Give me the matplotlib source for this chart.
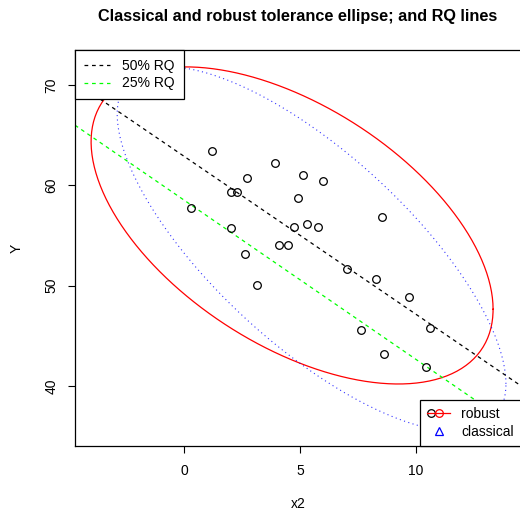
import numpy as np
import matplotlib
matplotlib.use("Agg")
import matplotlib.pyplot as plt
from matplotlib.lines import Line2D
from matplotlib.legend_handler import HandlerTuple, HandlerLine2D

plt.rcParams['font.family'] = ['Liberation Sans', 'DejaVu Sans']

# observed points (x2, Y)
x2 = [1.21, 3.92, 2.72, 5.13, 5.99, 2.03, 2.28, 4.91, 0.30, 8.53,
      2.03, 4.74, 5.30, 5.78, 4.09, 4.48, 2.63, 7.03, 3.15, 8.28,
      9.70, 7.63, 10.60, 8.62, 10.43]
Y = [63.4, 62.2, 60.7, 61.0, 60.4, 59.3, 59.3, 58.7, 57.7, 56.8,
     55.7, 55.8, 56.1, 55.8, 54.0, 54.0, 53.2, 51.7, 50.1, 50.7,
     48.9, 45.6, 45.8, 43.2, 41.9]

# robust location / scatter
rob_center = [4.66, 56.0]
rob_cov = [[10.18, -9.82], [-9.82, 33.9]]

# classical location / scatter
cla_center = [5.5, 53.65]
cla_cov = [[9.52, -15.28], [-15.28, 44.8]]

# quantile regression lines: (intercept, slope)
rq50 = (62.9, -1.576)
rq25 = (58.53, -1.589)

level = 0.975
chi2_q = -2 * np.log(1 - level)  # chi-square quantile with 2 df


def ellipse_xy(center, cov, c, n=300):
    t = np.linspace(0, 2 * np.pi, n)
    L = np.linalg.cholesky(np.asarray(cov))
    pts = np.sqrt(c) * L @ np.vstack([np.cos(t), np.sin(t)])
    return pts[0] + center[0], pts[1] + center[1]


# legend marker drawn a bit left of the handle centre (like R's overplotted pch)
class ShiftedMarker(HandlerLine2D):
    def get_xdata(self, *args):
        xd, xm = super().get_xdata(*args)
        return np.asarray(xd) - 5.5, np.asarray(xm) - 5.5


fs = 10

fig = plt.figure(figsize=(5.20, 5.14), dpi=100)
ax = fig.add_axes([75 / 520, 68 / 514, 446 / 520, 396 / 514])
xlim = (-4.70, 14.53)
ylim = (34.0, 73.5)
ax.set_xlim(*xlim)
ax.set_ylim(*ylim)

ax.plot(x2, Y, 'o', mfc='none', mec='black', ms=5.5, mew=0.9, zorder=3)

ex, ey = ellipse_xy(rob_center, rob_cov, chi2_q)
ax.plot(ex, ey, color='red', lw=0.9)
ex, ey = ellipse_xy(cla_center, cla_cov, chi2_q)
ax.plot(ex, ey, color='blue', lw=0.8, dashes=(1, 3), alpha=0.8)

xx = np.array(xlim)
ax.plot(xx, rq50[0] + rq50[1] * xx, color='black', lw=0.9, dashes=(3, 3))
ax.plot(xx, rq25[0] + rq25[1] * xx, color='#00ff00', lw=0.9, dashes=(3, 3))

ax.set_xticks([0, 5, 10])
ax.set_yticks([40, 50, 60, 70])
ax.tick_params(direction='out', length=5, width=0.8, labelsize=fs)
ax.tick_params(axis='x', pad=8)
ax.tick_params(axis='y', pad=7)
for lab in ax.get_yticklabels():
    lab.set_rotation(90)
    lab.set_va('center')
for sp in ax.spines.values():
    sp.set_linewidth(0.9)

fig.text(298 / 520, 1 - 16 / 514, 'Classical and robust tolerance ellipse; and RQ lines',
         ha='center', va='center', fontsize=11.7, fontweight='bold')
fig.text(298 / 520, 1 - 504 / 514, 'x2', ha='center', va='center', fontsize=fs)
fig.text(17 / 520, 1 - 248 / 514, 'Y', ha='center', va='center', fontsize=fs, rotation=90)

h50 = Line2D([], [], color='black', lw=0.9, dashes=(3, 3))
h25 = Line2D([], [], color='#00ff00', lw=0.9, dashes=(3, 3))
leg1 = ax.legend([h50, h25], ['50% RQ', '25% RQ'], loc='upper left', borderaxespad=0,
                 fontsize=fs, fancybox=False, framealpha=1, edgecolor='black',
                 handlelength=1.9, handletextpad=0.9, borderpad=0.62, labelspacing=0.27)
leg1.get_frame().set_linewidth(0.9)
ax.add_artist(leg1)

h_blk = Line2D([], [], ls='none', marker='o', mfc='none', mec='black', ms=5.5, mew=0.9)
h_red = Line2D([], [], color='red', lw=0.9, marker='o', mfc='none', mec='red', ms=5.5, mew=0.9)
h_cla = Line2D([], [], ls='none', marker='^', mfc='none', mec='blue', ms=5.5, mew=0.9)
leg2 = ax.legend([(h_blk, h_red), h_cla], ['robust', 'classical'], loc='lower right',
                 borderaxespad=0, fontsize=fs, fancybox=False, framealpha=1,
                 edgecolor='black', handlelength=1.7, handletextpad=0.8, borderpad=0.5,
                 labelspacing=0.3,
                 handler_map={tuple: HandlerTuple(ndivide=1), h_blk: ShiftedMarker()})
leg2.get_frame().set_linewidth(0.9)

fig.savefig('out.png', dpi=100)
